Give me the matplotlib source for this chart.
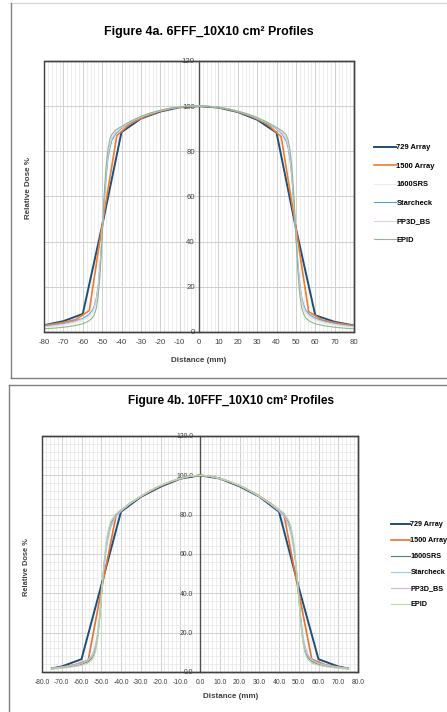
import matplotlib.pyplot as plt
from matplotlib.lines import Line2D
from matplotlib.ticker import MultipleLocator, FormatStrFormatter

# ---- 6FFF 10x10 profiles (Figure 4a) ----
x729_a = [-80, -70, -60, -50, -40, -30, -20, -10, 0, 10, 20, 30, 40, 50, 60, 70, 80]
d729_a = [3.0, 4.8, 8.0, 47.0, 88.5, 94.5, 97.6, 99.5, 100.0, 99.4, 97.4, 94.0, 88.3, 46.0, 7.4, 4.5, 2.9]

x1500_a = [-80, -77.8, -70.7, -63.6, -56.6, -49.5, -42.4, -35.4, -28.3, -21.2, -14.1, -7.1, 0,
           7.1, 14.1, 21.2, 28.3, 35.4, 42.4, 49.5, 56.6, 63.6, 70.7, 77.8, 80]
d1500_a = [2.9, 3.2, 4.1, 5.5, 9.5, 50.0, 87.0, 92.3, 95.3, 97.5, 99.0, 99.8, 100.0,
           99.7, 98.8, 97.2, 95.0, 91.9, 86.5, 49.0, 9.0, 5.3, 4.0, 3.1, 2.9]

xfine_a = [-80, -75, -70, -65, -60, -57, -55, -54, -53, -52, -51, -50, -49, -48, -47, -46, -45, -43,
           -40, -35, -30, -25, -20, -15, -10, -5, 0, 5, 10, 15, 20, 25, 30, 35, 40,
           43, 45, 46, 47, 48, 49, 50, 51, 52, 53, 54, 55, 57, 60, 65, 70, 75, 80]
srs_a = [2.0, 2.5, 3.0, 3.8, 5.0, 6.5, 8.3, 10.0, 13.0, 19.0, 29.0, 44.0, 59.0, 71.0, 79.0, 84.0, 86.5, 89.0,
         90.8, 93.3, 95.3, 96.9, 98.1, 99.0, 99.7, 100.0, 100.0, 99.9, 99.5, 98.8, 97.8, 96.5, 94.8, 92.8, 90.4,
         88.6, 86.3, 83.5, 78.5, 70.5, 58.0, 43.5, 29.0, 19.5, 13.0, 10.0, 8.2, 6.4, 5.0, 3.8, 3.0, 2.5, 2.0]
star_a = [2.6, 3.1, 3.7, 4.6, 6.0, 7.6, 9.6, 11.6, 15.0, 21.0, 30.5, 43.0, 56.5, 68.0, 76.5, 81.5, 84.8, 87.8,
          90.2, 93.0, 95.1, 96.8, 98.0, 99.0, 99.6, 100.0, 100.0, 99.8, 99.4, 98.7, 97.6, 96.3, 94.6, 92.5, 89.9,
          87.5, 84.5, 81.5, 76.0, 67.5, 56.0, 43.0, 31.0, 21.5, 15.5, 12.0, 9.8, 7.8, 6.1, 4.7, 3.7, 3.1, 2.6]
pp3d_a = [2.3, 2.8, 3.4, 4.3, 5.6, 7.1, 9.0, 10.9, 14.2, 20.0, 30.0, 44.0, 58.0, 70.0, 78.0, 83.0, 85.8, 88.4,
          90.5, 93.2, 95.2, 96.8, 98.0, 99.0, 99.7, 100.0, 100.0, 99.9, 99.5, 98.8, 97.7, 96.4, 94.7, 92.7, 90.2,
          88.0, 85.5, 82.5, 77.5, 69.0, 57.0, 43.5, 30.0, 20.5, 14.5, 11.0, 9.0, 7.1, 5.6, 4.3, 3.4, 2.8, 2.3]
epid_a = [1.4, 1.7, 2.1, 2.7, 3.6, 4.8, 6.3, 7.8, 10.5, 16.0, 26.0, 42.0, 60.0, 73.0, 81.0, 85.5, 87.5, 89.5,
          91.0, 93.5, 95.5, 97.0, 98.2, 99.1, 99.7, 100.0, 100.0, 99.9, 99.5, 98.8, 97.8, 96.6, 95.0, 93.0, 90.6,
          89.0, 87.2, 85.0, 80.5, 72.5, 60.0, 43.0, 27.0, 16.5, 10.8, 8.0, 6.4, 4.8, 3.6, 2.7, 2.1, 1.7, 1.4]

# ---- 10FFF 10x10 profiles (Figure 4b) ----
x729_b = [-75, -70, -60, -50, -40, -30, -20, -10, 0, 10, 20, 30, 40, 50, 60, 70, 75]
d729_b = [1.8, 2.8, 6.5, 44.0, 81.5, 89.0, 94.2, 98.3, 100.0, 98.4, 94.4, 89.2, 81.5, 43.0, 6.5, 2.8, 1.8]

x1500_b = [-75, -70.7, -63.6, -56.6, -49.5, -42.4, -35.4, -28.3, -21.2, -14.1, -7.1, 0,
           7.1, 14.1, 21.2, 28.3, 35.4, 42.4, 49.5, 56.6, 63.6, 70.7, 75]
d1500_b = [1.8, 2.4, 3.6, 6.0, 44.0, 80.0, 85.8, 90.2, 94.0, 97.0, 99.2, 100.0,
           99.2, 97.1, 94.2, 90.5, 86.0, 80.5, 43.0, 6.5, 3.6, 2.4, 1.8]

xfine_b = [-75, -70, -65, -60, -57, -55, -54, -53, -52, -51, -50, -49, -48, -47, -46, -45, -43,
           -40, -35, -30, -25, -20, -15, -10, -5, 0, 5, 10, 15, 20, 25, 30, 35, 40,
           43, 45, 46, 47, 48, 49, 50, 51, 52, 53, 54, 55, 57, 60, 65, 70, 75]
srs_b = [1.7, 2.2, 2.9, 3.9, 5.1, 6.8, 8.5, 11.5, 16.5, 25.0, 37.5, 50.0, 60.0, 67.5, 72.5, 75.8, 79.3,
         82.2, 86.0, 89.3, 92.3, 94.8, 96.8, 98.4, 99.6, 100.0, 99.6, 98.4, 96.8, 94.8, 92.3, 89.3, 86.0, 82.2,
         79.3, 75.8, 72.5, 67.5, 60.0, 50.0, 38.0, 26.0, 17.0, 11.8, 8.7, 7.0, 5.2, 3.9, 2.9, 2.2, 1.7]
star_b = [1.9, 2.5, 3.3, 4.5, 6.0, 8.0, 10.0, 13.5, 19.0, 27.5, 38.5, 49.5, 58.5, 65.5, 70.5, 74.0, 78.5,
          81.8, 85.8, 89.2, 92.2, 94.7, 96.7, 98.3, 99.5, 100.0, 99.5, 98.3, 96.7, 94.7, 92.2, 89.2, 85.8, 81.8,
          78.5, 74.0, 70.5, 65.5, 58.5, 49.5, 39.0, 28.0, 19.5, 14.0, 10.3, 8.2, 6.1, 4.5, 3.3, 2.5, 1.9]
pp3d_b = [1.8, 2.4, 3.1, 4.2, 5.6, 7.4, 9.2, 12.5, 17.5, 26.0, 38.0, 50.0, 59.5, 66.5, 71.5, 75.0, 79.0,
          82.0, 85.9, 89.2, 92.2, 94.8, 96.8, 98.4, 99.6, 100.0, 99.6, 98.4, 96.8, 94.8, 92.2, 89.2, 85.9, 82.0,
          79.0, 75.0, 71.5, 66.5, 59.5, 50.0, 38.5, 27.0, 18.0, 12.8, 9.5, 7.6, 5.7, 4.2, 3.1, 2.4, 1.8]
epid_b = [1.4, 1.9, 2.5, 3.4, 4.4, 5.8, 7.2, 10.0, 15.0, 24.0, 37.0, 51.0, 62.0, 69.5, 74.0, 77.0, 80.0,
          82.6, 86.2, 89.5, 92.4, 94.9, 96.9, 98.5, 99.6, 100.0, 99.6, 98.5, 96.9, 94.9, 92.4, 89.5, 86.2, 82.6,
          80.0, 77.0, 74.0, 69.5, 62.0, 51.0, 37.5, 24.5, 15.5, 10.2, 7.4, 5.9, 4.4, 3.4, 2.5, 1.9, 1.4]

labels = ['729 Array', '1500 Array', '1600SRS', 'Starcheck', 'PP3D_BS', 'EPID']
colors_a = ['#1f4e79', '#ed7d31', '#e4f1e4', '#4fa6c8', '#ecc8ec', '#8cba8c']
colors_b = ['#1f4e79', '#e97132', '#4f7f6a', '#8fd0e8', '#d5b3d9', '#b5dca0']
widths = [1.4, 1.2, 0.8, 0.8, 0.8, 0.8]

FONT = 'Liberation Sans'
W, H = 447, 712


def px_axes(fig, left, top, right, bottom):
    return fig.add_axes([left / W, 1 - bottom / H, (right - left) / W, (bottom - top) / H])


def draw_profiles(ax, series, colors, fmt, tick_fs, ylab_pad, minor_y):
    for (x, y), c, lw, lab in zip(series, colors, widths, labels):
        ax.plot(x, y, color=c, lw=lw, label=lab, zorder=3)

    ax.set_xlim(-80, 80)
    ax.set_ylim(0, 120)
    ax.xaxis.set_major_locator(MultipleLocator(10))
    ax.xaxis.set_minor_locator(MultipleLocator(2))
    ax.yaxis.set_major_locator(MultipleLocator(20))
    if minor_y:
        ax.yaxis.set_minor_locator(MultipleLocator(4))
    else:
        ax.yaxis.set_minor_locator(MultipleLocator(20))
    ax.xaxis.set_major_formatter(FormatStrFormatter(fmt))
    ax.yaxis.set_major_formatter(FormatStrFormatter(fmt))
    ax.grid(which='major', color='#d0d0d0', lw=0.7, zorder=0)
    ax.grid(which='minor', color='#e6e6e6', lw=0.5, zorder=0)
    ax.set_axisbelow(True)

    # vertical value axis crosses at x = 0
    ax.spines['left'].set_position(('data', 0))
    ax.spines['left'].set_color('#505050')
    ax.spines['left'].set_linewidth(1.0)
    ax.spines['left'].set_zorder(2)
    for s in ['top', 'right', 'bottom']:
        ax.spines[s].set_color('#404040')
        ax.spines[s].set_linewidth(1.0)
    ax.add_patch(plt.Rectangle((0, 0), 1, 1, transform=ax.transAxes, fill=False,
                               ec='#404040', lw=1.0, zorder=4, clip_on=False))

    ax.tick_params(which='both', length=0)
    ax.tick_params(axis='x', pad=5, labelsize=tick_fs, labelcolor='#404040')
    ax.tick_params(axis='y', pad=ylab_pad, labelsize=tick_fs, labelcolor='#404040')
    for t in ax.get_xticklabels() + ax.get_yticklabels():
        t.set_fontfamily(FONT)


fig = plt.figure(figsize=(W / 100, H / 100), dpi=100)

# panel frames
line_kw = dict(transform=fig.transFigure, lw=1.0)
fig.add_artist(Line2D([10.5 / W, 1], [1 - 3 / H, 1 - 3 / H], color='#d8d8d8', **line_kw))
fig.add_artist(Line2D([10.5 / W, 10.5 / W], [1 - 3 / H, 1 - 378 / H], color='#808080', **line_kw))
fig.add_artist(Line2D([10.5 / W, 1], [1 - 378 / H, 1 - 378 / H], color='#808080', **line_kw))
fig.add_artist(Line2D([8.5 / W, 1], [1 - 385 / H, 1 - 385 / H], color='#808080', **line_kw))
fig.add_artist(Line2D([8.5 / W, 8.5 / W], [1 - 385 / H, 0], color='#808080', **line_kw))

# Figure 4a
ax1 = px_axes(fig, 44, 61, 354, 332)
draw_profiles(ax1, [(x729_a, d729_a), (x1500_a, d1500_a), (xfine_a, srs_a),
                    (xfine_a, star_a), (xfine_a, pp3d_a), (xfine_a, epid_a)],
              colors_a, '%d', 5.6, 3, False)
fig.text(209 / W, 1 - 32 / H, 'Figure 4a. 6FFF_10X10 cm² Profiles', ha='center', va='center',
         fontsize=8.9, fontweight='bold', family=FONT)
fig.text(28 / W, 1 - 188 / H, 'Relative Dose %', rotation=90, ha='center', va='center',
         fontsize=5.8, fontweight='bold', family=FONT, color='#404040')
fig.text(199 / W, 1 - 360 / H, 'Distance (mm)', ha='center', va='center',
         fontsize=5.8, fontweight='bold', family=FONT, color='#404040')
ax1.legend(loc='upper left', bbox_to_anchor=(374 / W, 1 - 144 / H), bbox_transform=fig.transFigure,
           frameon=False, handlelength=2.9, handletextpad=0.1, labelspacing=1.5,
           prop={'family': FONT, 'weight': 'bold', 'size': 5.4}, borderaxespad=0, borderpad=0)

# Figure 4b
ax2 = px_axes(fig, 42, 436, 358, 672)
draw_profiles(ax2, [(x729_b, d729_b), (x1500_b, d1500_b), (xfine_b, srs_b),
                    (xfine_b, star_b), (xfine_b, pp3d_b), (xfine_b, epid_b)],
              colors_b, '%.1f', 4.9, 5, True)
fig.text(231 / W, 1 - 401 / H, 'Figure 4b. 10FFF_10X10 cm² Profiles', ha='center', va='center',
         fontsize=8.5, fontweight='bold', family=FONT)
fig.text(27 / W, 1 - 567 / H, 'Relative Dose %', rotation=90, ha='center', va='center',
         fontsize=5.4, fontweight='bold', family=FONT, color='#404040')
fig.text(231 / W, 1 - 697 / H, 'Distance (mm)', ha='center', va='center',
         fontsize=5.8, fontweight='bold', family=FONT, color='#404040')
ax2.legend(loc='upper left', bbox_to_anchor=(391 / W, 1 - 521 / H), bbox_transform=fig.transFigure,
           frameon=False, handlelength=2.6, handletextpad=0.1, labelspacing=1.25,
           prop={'family': FONT, 'weight': 'bold', 'size': 5.2}, borderaxespad=0, borderpad=0)

fig.savefig('out.png', dpi=100)
